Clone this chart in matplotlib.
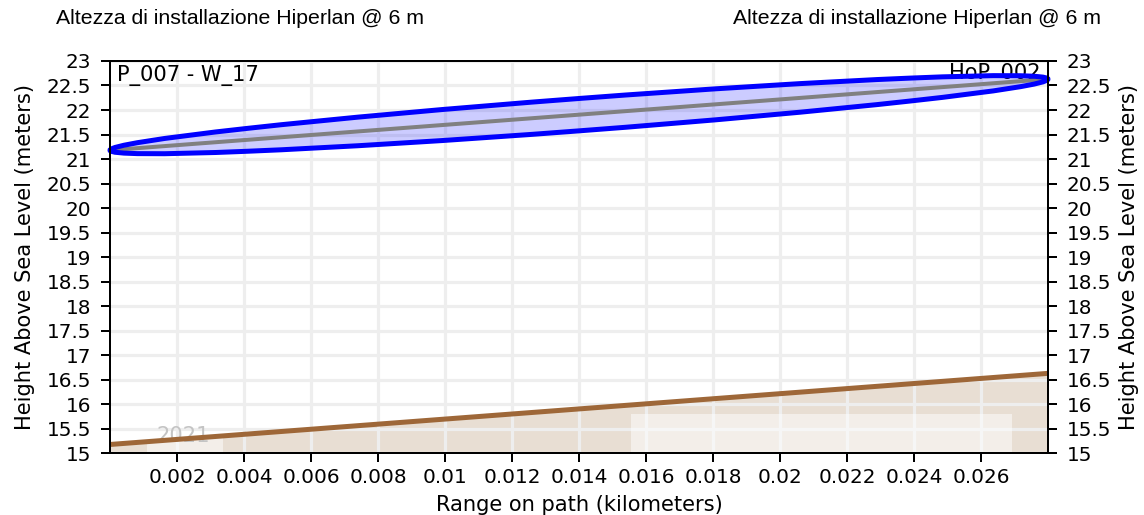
import matplotlib
matplotlib.use("Agg")
import matplotlib.pyplot as plt
from matplotlib.patches import Ellipse, Rectangle
from matplotlib.transforms import Affine2D
from matplotlib.ticker import FuncFormatter

# ------------------------------------------------------------------ #
# Data
# ------------------------------------------------------------------ #
path_km = [0.0, 0.028]                 # range on path
terrain_m = [15.18, 16.63]             # ground height along the path
los_m = [21.18, 22.63]                 # line of sight (antenna @ 6 m)
fresnel_half_m = 0.33                  # half-height of the zone at mid-path

x_ticks = [0.002, 0.004, 0.006, 0.008, 0.01, 0.012, 0.014,
           0.016, 0.018, 0.02, 0.022, 0.024, 0.026]
y_ticks = [15, 15.5, 16, 16.5, 17, 17.5, 18, 18.5, 19, 19.5,
           20, 20.5, 21, 21.5, 22, 22.5, 23]

site_a = "P_007 - W_17"
site_b = "HoP_002"
title = "Altezza di installazione Hiperlan @ 6 m"
y_label = "Height Above Sea Level (meters)"
x_label = "Range on path (kilometers)"

plt.rcParams["font.family"] = "DejaVu Sans"
plt.rcParams["font.size"] = 10

fig = plt.figure(figsize=(1144 / 144, 515 / 144), dpi=144)
ax = fig.add_axes([0.0962, 0.1198, 0.8198, 0.7618])

ax.set_xlim(path_km[0], path_km[-1])
ax.set_ylim(y_ticks[0], y_ticks[-1])

# terrain
ax.fill_between(path_km, y_ticks[0], terrain_m, color="#e8ded3", lw=0, zorder=0.5)

# grid on top of the terrain fill
ax.set_xticks(x_ticks)
ax.set_yticks(y_ticks)
ax.set_axisbelow(False)
ax.grid(True, color="#eeeeee", lw=1.6)

# faint attribution boxes
ax.add_patch(Rectangle((0.039, 0), 0.0815, 0.042, transform=ax.transAxes,
                       color="white", alpha=0.5, lw=0, zorder=2.6))
ax.add_patch(Rectangle((0.555, 0), 0.407, 0.1, transform=ax.transAxes,
                       color="white", alpha=0.5, lw=0, zorder=2.6))
ax.text(0.078, 0.045, "2021", transform=ax.transAxes, color="#c4c4c4",
        ha="center", va="center", fontsize=10.5, zorder=2.7)

ax.plot(path_km, terrain_m, color="#9e6738", lw=2.5, zorder=3, solid_capstyle="butt")

ax.text(0.007, 0.99, site_a, transform=ax.transAxes, ha="left", va="top",
        fontsize=10.5, zorder=3)
ax.text(0.992, 0.995, site_b, transform=ax.transAxes, ha="right", va="top",
        fontsize=10.5, zorder=3)

# Fresnel ellipse: unit circle sheared onto the line of sight
xm = (path_km[0] + path_km[-1]) / 2
ym = (los_m[0] + los_m[-1]) / 2
a = (path_km[-1] - path_km[0]) / 2
slope = (los_m[-1] - los_m[0]) / (path_km[-1] - path_km[0])
shear = Affine2D.from_values(a, slope * a, 0, fresnel_half_m, xm, ym)
ax.add_patch(Ellipse((0, 0), 2, 2, transform=shear + ax.transData,
                     facecolor=(0, 0, 1, 0.2), lw=0, zorder=3.2, clip_on=False))
ax.plot(path_km, los_m, color="gray", lw=2, zorder=3.5)
ax.add_patch(Ellipse((0, 0), 2, 2, transform=shear + ax.transData,
                     facecolor="none", edgecolor="blue", lw=2.5, zorder=4,
                     clip_on=False))

fmt = FuncFormatter(lambda v, p: f"{v:g}")
ax.xaxis.set_major_formatter(fmt)
ax.yaxis.set_major_formatter(fmt)
ax.tick_params(axis="y", direction="out", length=4.5, width=1, pad=5)
ax.tick_params(axis="x", direction="out", length=4.5, width=1, pad=3)
ax.set_xlabel(x_label, fontsize=10.5, labelpad=4)
ax.set_ylabel(y_label, fontsize=10.5, labelpad=5.5)

ax2 = ax.twinx()
ax2.set_ylim(ax.get_ylim())
ax2.set_yticks(y_ticks)
ax2.yaxis.set_major_formatter(fmt)
ax2.tick_params(direction="out", length=4.5, width=1, pad=5)
ax2.set_ylabel(y_label, fontsize=10.5, labelpad=3.5)

for s in list(ax.spines.values()) + list(ax2.spines.values()):
    s.set_linewidth(1)

fig.text(0.2094, 0.965, title, ha="center", va="center",
         family="Liberation Sans", fontsize=10.6)
fig.text(0.802, 0.965, title, ha="center", va="center",
         family="Liberation Sans", fontsize=10.6)

fig.savefig("out.png", dpi=144)
